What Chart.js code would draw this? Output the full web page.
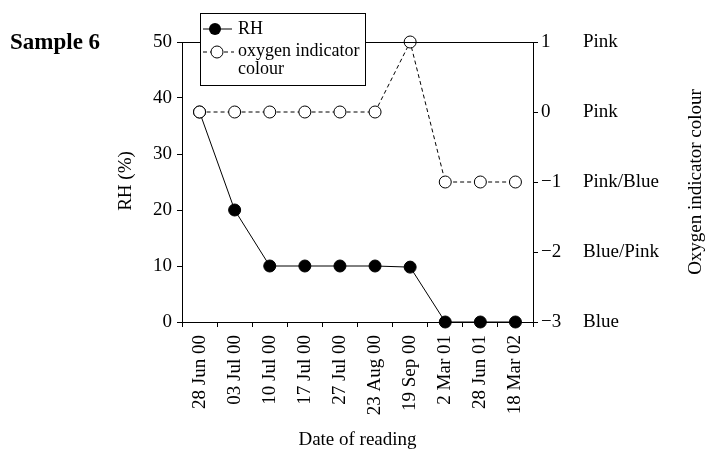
<!DOCTYPE html>
<html>
<head>
<meta charset="utf-8">
<script src="https://cdn.jsdelivr.net/npm/chart.js@4/dist/chart.umd.min.js"></script>
<style>
  body { margin: 0; background: #fff; }
  #wrap { width: 705px; height: 450px; }
</style>
</head>
<body>
<div id="wrap"><canvas id="chart" width="705" height="450"></canvas></div>
<script>
const dates = ['28 Jun 00', '03 Jul 00', '10 Jul 00', '17 Jul 00', '27 Jul 00',
    '23 Aug 00', '19 Sep 00', '2 Mar 01', '28 Jun 01', '18 Mar 02'];
const rhValues = [37.5, 20, 10, 10, 10, 10, 9.8, 0, 0, 0];
const oxygenValues = [0, 0, 0, 0, 0, 0, 1, -1, -1, -1];
const colourNames = { '1': 'Pink', '0': 'Pink', '-1': 'Pink/Blue', '-2': 'Blue/Pink', '-3': 'Blue' };

const serif = '"Liberation Serif", "Times New Roman", serif';

const extras = {
    id: 'extras',
    afterDraw(chart) {
        const ctx = chart.ctx;
        const area = chart.chartArea;
        const y2 = chart.scales.y2;
        ctx.save();
        ctx.strokeStyle = '#000';
        ctx.lineWidth = 1;
        // top frame line
        ctx.beginPath();
        ctx.moveTo(area.left, Math.round(area.top) + 0.5);
        ctx.lineTo(area.right, Math.round(area.top) + 0.5);
        ctx.stroke();

        ctx.fillStyle = '#000';
        ctx.font = '19px ' + serif;
        ctx.textBaseline = 'middle';
        ctx.textAlign = 'left';
        Object.keys(colourNames).forEach(v => {
            ctx.fillText(colourNames[v], 583, y2.getPixelForValue(Number(v)));
        });

        // axis titles
        ctx.textAlign = 'center';
        ctx.fillText('Date of reading', (area.left + area.right) / 2, 440);
        ctx.save();
        ctx.translate(126, 181);
        ctx.rotate(-Math.PI / 2);
        ctx.fillText('RH (%)', 0, 0);
        ctx.restore();
        ctx.save();
        ctx.translate(696, 182);
        ctx.rotate(-Math.PI / 2);
        ctx.fillText('Oxygen indicator colour', 0, 0);
        ctx.restore();

        ctx.font = 'bold 23px ' + serif;
        ctx.textAlign = 'left';
        ctx.fillText('Sample 6', 10, 43);

        // legend box
        ctx.fillStyle = '#fff';
        ctx.fillRect(200, 13, 165, 72);
        ctx.strokeRect(200.5, 13.5, 165, 72);
        ctx.beginPath();
        ctx.moveTo(203, 29);
        ctx.lineTo(232, 29);
        ctx.stroke();
        ctx.fillStyle = '#000';
        ctx.beginPath();
        ctx.arc(215, 29, 6, 0, Math.PI * 2);
        ctx.fill();
        ctx.setLineDash([4, 3]);
        ctx.beginPath();
        ctx.moveTo(203, 52);
        ctx.lineTo(234, 52);
        ctx.stroke();
        ctx.setLineDash([]);
        ctx.fillStyle = '#fff';
        ctx.beginPath();
        ctx.arc(217, 52, 6, 0, Math.PI * 2);
        ctx.fill();
        ctx.stroke();
        ctx.fillStyle = '#000';
        ctx.font = '18px ' + serif;
        ctx.fillText('RH', 238, 29);
        ctx.fillText('oxygen indicator', 238, 51);
        ctx.fillText('colour', 238, 69);
        ctx.restore();
    }
};

new Chart(document.getElementById('chart'), {
    type: 'line',
    data: {
        labels: dates,
        datasets: [{
            label: 'RH',
            data: rhValues,
            yAxisID: 'y',
            borderColor: '#000',
            borderWidth: 1,
            backgroundColor: '#000',
            pointBackgroundColor: '#000',
            pointBorderColor: '#000',
            pointRadius: 6,
            tension: 0,
            clip: false,
            order: 2
        }, {
            label: 'oxygen indicator colour',
            data: oxygenValues,
            yAxisID: 'y2',
            borderColor: '#000',
            borderWidth: 1,
            borderDash: [4, 3],
            pointBackgroundColor: '#fff',
            pointBorderColor: '#000',
            pointBorderWidth: 1,
            pointRadius: 6,
            tension: 0,
            clip: false,
            order: 1
        }]
    },
    options: {
        responsive: false,
        animation: false,
        layout: { padding: { top: 42, left: 0, right: 0, bottom: 0 } },
        plugins: { legend: { display: false }, tooltip: { enabled: false } },
        scales: {
            x: {
                offset: true,
                afterFit: s => { s.height = 128; },
                grid: { display: true, drawOnChartArea: false, offset: true, tickLength: 5, color: '#000' },
                border: { display: true, color: '#000' },
                ticks: {
                    minRotation: 90, maxRotation: 90, padding: 8,
                    color: '#000', font: { family: serif, size: 19 }
                }
            },
            y: {
                position: 'left',
                min: 0, max: 50,
                afterFit: s => { s.width = 182; },
                grid: { display: true, drawOnChartArea: false, tickLength: 5, color: '#000' },
                border: { display: true, color: '#000' },
                ticks: { stepSize: 10, padding: 5, color: '#000', font: { family: serif, size: 19 } }
            },
            y2: {
                position: 'right',
                min: -3, max: 1,
                afterFit: s => { s.width = 172; },
                grid: { display: true, drawOnChartArea: false, tickLength: 5, color: '#000' },
                border: { display: true, color: '#000' },
                ticks: {
                    stepSize: 1, padding: 3, color: '#000', font: { family: serif, size: 19 },
                    callback: v => String(v).replace('-', '\u2212')
                }
            }
        }
    },
    plugins: [extras]
});
</script>
</body>
</html>
